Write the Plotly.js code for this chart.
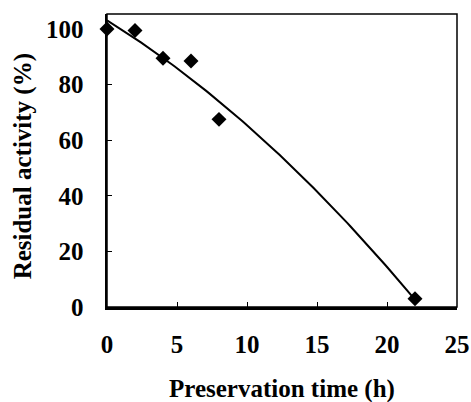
<!DOCTYPE html>
<html>
<head>
<meta charset="utf-8">
<script src="https://cdn.plot.ly/plotly-3.0.1.min.js"></script>
<style>html,body{margin:0;padding:0;background:#fff;}#chart{width:471px;height:402px;}</style>
</head>
<body>
<div id="chart"></div>
<script>
// Data
var timeH = [0, 2, 4, 6, 8, 22];
var residualActivity = [100, 99.5, 89.5, 88.5, 67.5, 3];
var xTicks = [0, 5, 10, 15, 20, 25];
var yTicks = [0, 20, 40, 60, 80, 100];

// Second-order polynomial least-squares trendline computed from the data
function polyfit2(xs, ys) {
  var n = xs.length, S = [0,0,0,0,0], T = [0,0,0];
  for (var i = 0; i < n; i++) {
    var p = 1;
    for (var k = 0; k < 5; k++) { S[k] += p; if (k < 3) T[k] += p * ys[i]; p *= xs[i]; }
  }
  var A = [[S[0],S[1],S[2],T[0]],[S[1],S[2],S[3],T[1]],[S[2],S[3],S[4],T[2]]];
  for (var c = 0; c < 3; c++) {
    for (var r = c + 1; r < 3; r++) {
      var f = A[r][c] / A[c][c];
      for (var j = c; j < 4; j++) A[r][j] -= f * A[c][j];
    }
  }
  var coef = [0,0,0];
  for (var r2 = 2; r2 >= 0; r2--) {
    var s = A[r2][3];
    for (var j2 = r2 + 1; j2 < 3; j2++) s -= A[r2][j2] * coef[j2];
    coef[r2] = s / A[r2][r2];
  }
  return coef;
}
var coef = polyfit2(timeH, residualActivity);
var fitX = [], fitY = [];
var xMin = timeH[0], xMax = timeH[timeH.length - 1];
for (var i = 0; i <= 100; i++) {
  var xv = xMin + (xMax - xMin) * i / 100;
  fitX.push(xv);
  fitY.push(coef[0] + coef[1] * xv + coef[2] * xv * xv);
}

var font = 'Liberation Serif, Times New Roman, serif';

var traces = [
  {x: fitX, y: fitY, mode: 'lines', line: {color: '#000', width: 2}, hoverinfo: 'skip', showlegend: false},
  {x: timeH, y: residualActivity, mode: 'markers', marker: {symbol: 'diamond', size: 11.5, color: '#000'}, showlegend: false, cliponaxis: false}
];

var axisCommon = {
  showgrid: false, zeroline: false, showline: true, linecolor: '#000', linewidth: 2.5,
  ticks: 'inside', ticklen: 5, tickwidth: 1, tickcolor: '#000',
  tickfont: {family: font, size: 25, color: '#000', weight: 'bold'},
  fixedrange: true
};

var layout = {
  width: 471, height: 402,
  margin: {l: 107, r: 14, t: 14, b: 95},
  paper_bgcolor: '#fff', plot_bgcolor: '#fff',
  showlegend: false,
  xaxis: Object.assign({}, axisCommon, {range: [0, 25], tickvals: xTicks, ticktext: xTicks.map(String), ticklabelstandoff: 13}),
  yaxis: Object.assign({}, axisCommon, {range: [0, 105.4], tickvals: yTicks, ticktext: yTicks.map(String), ticklabelstandoff: 16}),
  shapes: [
    {type: 'rect', xref: 'paper', yref: 'paper', x0: 0, x1: 1, y0: 0, y1: 1, line: {color: '#000', width: 1.5}, layer: 'above'}
  ],
  annotations: [
    {text: '<b>Preservation time (h)</b>', xref: 'paper', yref: 'paper', x: 0.5, y: -0.28, xanchor: 'center', yanchor: 'middle', showarrow: false,
     font: {family: font, size: 25, color: '#000'}},
    {text: '<b>Residual activity (%)</b>', xref: 'paper', yref: 'paper', x: -0.24, y: 0.48, xanchor: 'center', yanchor: 'middle', textangle: -90, showarrow: false,
     font: {family: font, size: 25, color: '#000'}}
  ]
};

Plotly.newPlot('chart', traces, layout, {displayModeBar: false, staticPlot: true});
</script>
</body>
</html>
